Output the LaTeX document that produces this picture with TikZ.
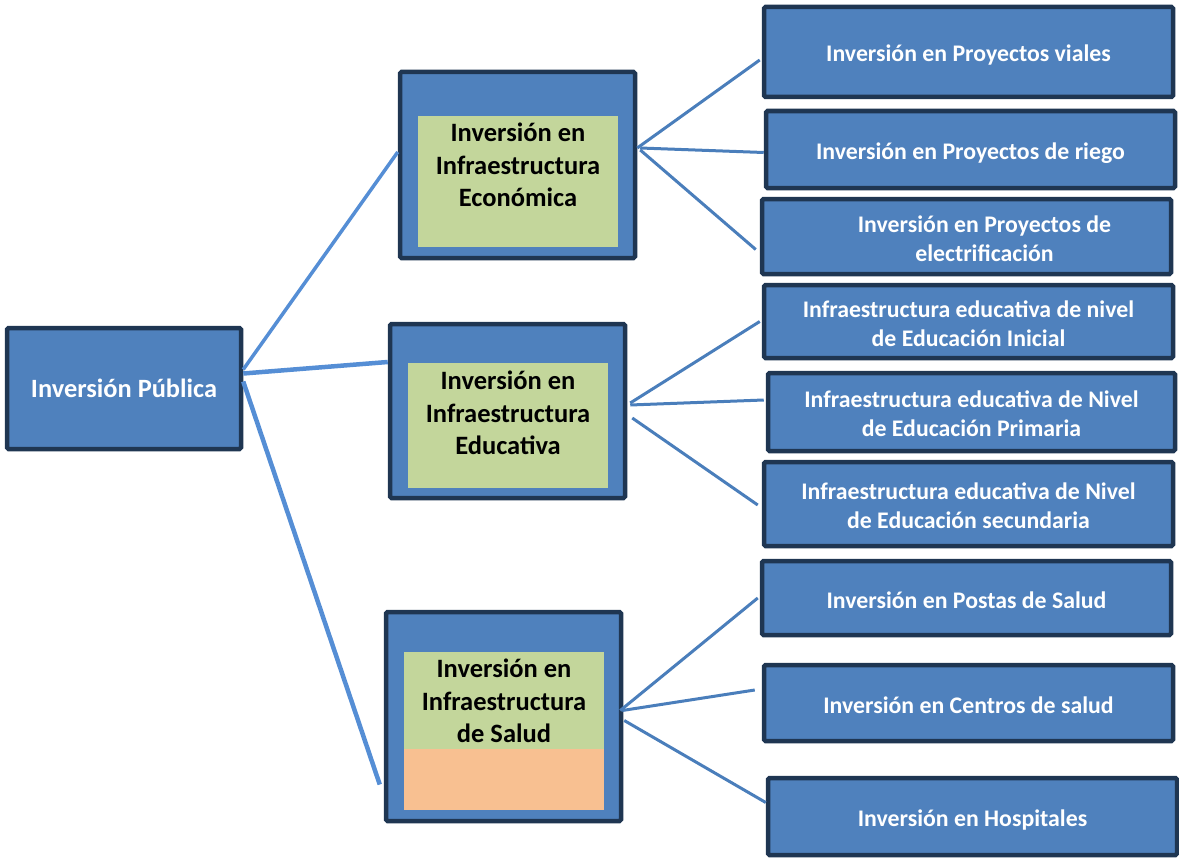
\documentclass[tikz,border=0pt]{standalone}
\usepackage{fontspec}
\setmainfont{Carlito}
\usetikzlibrary{positioning}
\definecolor{boxblue}{HTML}{4F81BD}
\definecolor{boxedge}{HTML}{1F3652}
\definecolor{leafgreen}{HTML}{C3D69B}
\definecolor{peach}{HTML}{F8C091}
\definecolor{linkblue}{HTML}{4A7EBB}
\definecolor{rootlink}{HTML}{558ED5}

\begin{document}
\begin{tikzpicture}[x=1pt,y=-1pt,
  bluebox/.style={draw=boxedge,fill=boxblue,line width=4.5pt,rounded corners=1.5pt,inner sep=0pt},
  greenbox/.style={fill=leafgreen,inner sep=0pt,minimum width=200pt,text width=200pt,
    align=flush center,text height=20pt,font=\fontsize{26.5}{32.5}\selectfont\bfseries},
  leafbox/.style={bluebox,minimum width=409pt,text width=405pt,text=white,align=flush center,
    text height=20pt,text depth=0pt,font=\fontsize{23.8}{29}\selectfont\bfseries},
  twolines/.style={text depth=29pt},
  link/.style={draw=linkblue,line width=3pt},
  rootedge/.style={draw=rootlink,line width=4.5pt}]
\useasboundingbox (0,0) rectangle (1179,859);
\tikzstyle{every node}+=[inner sep=0pt]

\node [bluebox,minimum width=234pt,minimum height=121pt,text=white,
  font=\fontsize{26.4}{32}\selectfont\bfseries] (pub) at (124,388.5) {Inversión Pública};

\node [bluebox,minimum width=235pt,minimum height=186pt] (eco) at (517.5,165) {};
\node [greenbox,minimum height=131pt,text depth=100pt] (ecoin) at (518,181.5)
  {Inversión en\\Infraestructura\\Económica};

\node [bluebox,minimum width=235pt,minimum height=174pt] (edu) at (507.5,411) {};
\node [greenbox,minimum height=125pt,text depth=92pt] (eduin) at (508,425.5)
  {Inversión en\\Infraestructura\\Educativa};

\node [bluebox,minimum width=235pt,minimum height=209pt] (sal) at (503.5,716.5) {};
\node [greenbox,minimum height=97pt,text depth=66pt] (salin) at (504,700.5)
  {Inversión en\\Infraestructura\\de Salud};
\node [fill=peach,minimum width=200pt,minimum height=61pt] (salpeach) at (504,779.5) {};

\node [leafbox,minimum height=90pt] (viales) at (968.5,52) {Inversión en Proyectos viales};
\node [leafbox,minimum height=77pt] (riego) at (970.5,149.5) {Inversión en Proyectos de riego};
\node [leafbox,twolines,minimum height=75pt] (electr) at (966.5,236.5)
  {\hspace*{36pt}Inversión en Proyectos de\\\hspace*{36pt}electrificación};
\node [leafbox,twolines,minimum height=73pt] (inicial) at (968.5,321.5)
  {Infraestructura educativa de nivel\\de Educación Inicial};
\node [leafbox,twolines,minimum height=78pt,minimum width=407pt] (primaria) at (971.5,412)
  {Infraestructura educativa de Nivel\\de Educación Primaria};
\node [leafbox,twolines,minimum height=84pt] (secund) at (968.5,504)
  {Infraestructura educativa de Nivel\\de Educación secundaria};
\node [leafbox,minimum height=74pt] (postas) at (966.5,598) {Inversión en Postas de Salud};
\node [leafbox,minimum height=76pt] (centros) at (968.5,703) {Inversión en Centros de salud};
\node [leafbox,minimum height=77pt] (hosp) at (972.5,816.5) {Inversión en Hospitales};

\draw [rootedge,line width=3.5pt] ([yshift=19pt]pub.east) -- ([yshift=13pt]eco.west);
\draw [rootedge] ([yshift=15pt]pub.east) -- ([yshift=49pt]edu.west);
\draw [rootedge] ([yshift=7pt]pub.east) -- ([xshift=-4pt,yshift=-68pt]sal.west);

\draw [link] ([yshift=17pt]eco.east) -- ([xshift=-2pt,yshift=-8pt]viales.west);
\draw [link] ([xshift=3pt,yshift=17pt]eco.east) -- ([yshift=-3pt]riego.west);
\draw [link] ([xshift=3pt,yshift=15pt]eco.east) -- ([xshift=-4pt,yshift=-13pt]electr.west);

\draw [link] ([xshift=3pt,yshift=8pt]edu.east) -- ([xshift=-2pt]inicial.west);
\draw [link] ([xshift=3pt,yshift=6pt]edu.east) -- ([xshift=-2pt,yshift=12pt]primaria.west);
\draw [link] ([xshift=5pt,yshift=-7pt]edu.east) -- ([xshift=-4pt,yshift=-1pt]secund.west);

\draw [link] ([xshift=-3pt,yshift=6pt]sal.east) -- ([xshift=-2pt]postas.west);
\draw [link] ([xshift=-1pt,yshift=6pt]sal.east) -- ([xshift=-7pt,yshift=13pt]centros.west);
\draw [link] ([xshift=1pt,yshift=-4pt]sal.east) -- ([yshift=14pt]hosp.west);
\end{tikzpicture}
\end{document}
